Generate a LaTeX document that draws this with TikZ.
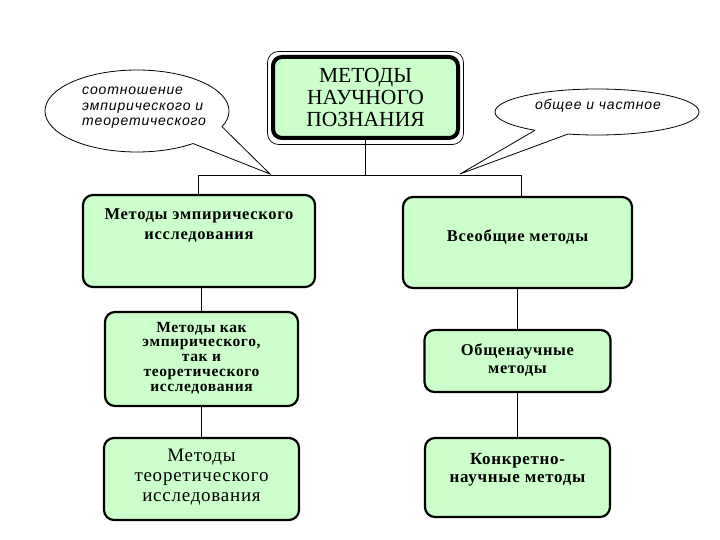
\documentclass[tikz,border=0pt]{standalone}
\usepackage{fontspec}
\setmainfont{Liberation Serif}
\newfontfamily\callfont[LetterSpace=6]{Liberation Sans}
\newfontfamily\boxfont[LetterSpace=4]{Liberation Serif}
\usetikzlibrary{shapes.geometric}
\definecolor{boxgreen}{RGB}{204,255,204}
\tikzset{
  gbox/.style={draw=black, fill=boxgreen, line width=2.2pt, rounded corners=10pt, inner sep=0pt},
  btxt/.style={align=center, font=\boxfont\bfseries\fontsize{14}{15}\selectfont, inner sep=0pt},
  conn/.style={draw=black, line width=0.8pt},
  bubble/.style={draw=black, fill=white, ellipse, line width=0.8pt, inner sep=0pt},
  ctxt/.style={font=\callfont\itshape\fontsize{14}{15.5}\selectfont, inner sep=0pt}
}
\begin{document}
\begin{tikzpicture}[x=1pt,y=-1pt]
\useasboundingbox (0,0) rectangle (720,540);
\fill[white] (0,0) rectangle (720,540);

% connectors
\coordinate (hl) at (198,175);
\coordinate (hr) at (521,175);

% top box
\node[draw=black, fill=boxgreen, line width=4pt, rounded corners=9pt, minimum width=185pt, minimum height=81pt, inner sep=0pt] (top) at (365.5,97.5) {};
\draw[line width=0.7pt, rounded corners=11pt] ([xshift=-3.5pt,yshift=3.5pt]top.north west) rectangle ([xshift=3.5pt,yshift=-4.5pt]top.south east);
\node[align=center, font=\fontsize{21.5}{22}\selectfont, inner sep=0pt] (toptxt) at (365.5,97.5) {МЕТОДЫ\\НАУЧНОГО\\ПОЗНАНИЯ};

% level 1
\node[gbox, minimum width=232pt, minimum height=92pt] (e1) at (199,241) {};
\node[btxt, font=\boxfont\bfseries\fontsize{16.5}{20}\selectfont] (e1t) at (199,226) {Методы эмпирического\\исследования};
\node[gbox, minimum width=229pt, minimum height=91pt] (u1) at (517.5,242.5) {};
\node[btxt, font=\boxfont\bfseries\fontsize{16.5}{20}\selectfont] (u1t) at (517.5,237) {Всеобщие методы};

% level 2
\node[gbox, minimum width=193pt, minimum height=94pt] (e2) at (201.5,359) {};
\node[btxt, font=\boxfont\bfseries\fontsize{15.5}{14.8}\selectfont] (e2t) at (201.5,358) {Методы как\\эмпирического,\\так и\\теоретического\\исследования};
\node[gbox, minimum width=186pt, minimum height=62pt] (u2) at (517.5,361) {};
\node[btxt, font=\boxfont\bfseries\fontsize{16.5}{18}\selectfont] (u2t) at (517.5,360) {Общенаучные\\методы};

% level 3
\node[gbox, minimum width=195pt, minimum height=82pt] (e3) at (201.5,479) {};
\node[align=center, font=\boxfont\fontsize{19}{20}\selectfont, inner sep=0pt] (e3t) at (201.5,477) {Методы\\теоретического\\исследования};
\node[gbox, minimum width=185pt, minimum height=79pt] (u3) at (517.5,477.5) {};
\node[btxt, font=\boxfont\bfseries\fontsize{17}{18}\selectfont] (u3t) at (517.5,470) {Конкретно-\\научные методы};

% tree connectors
\draw[conn] (top.south) -- (top.south |- hl);
\draw[conn] (hl) -- (hr);
\draw[conn] (hl) -- (hl |- e1.north);
\draw[conn] (hr) -- (hr |- u1.north);
\draw[conn] (e2.north) -- (e2.north |- e1.south);
\draw[conn] (e3.north) -- (e3.north |- e2.south);
\draw[conn] (u2.north) -- (u2.north |- u1.south);
\draw[conn] (u3.north) -- (u3.north |- u2.south);

% left callout
\node[bubble, minimum width=184pt, minimum height=82pt] (cl) at (137,111) {};
\node[ctxt, align=left, anchor=west] (clt) at (82,108) {соотношение\\эмпирического и\\теоретического};
\coordinate (clA) at (193,143.5);
\coordinate (clB) at (222,126.7);
\coordinate (clTip) at (270,174);
\fill[white] (191,139) -- (clA) -- (clTip) -- (clB) -- (218,125) -- cycle;
\draw[line width=0.8pt] (clA) -- (clTip) -- (clB);

% right callout
\node[bubble, minimum width=204pt, minimum height=46pt] (cr) at (597,112) {};
\node[ctxt] (crt) at (598,106) {общее и частное};
\coordinate (crA) at (535,130.3);
\coordinate (crB) at (568,134);
\coordinate (crTip) at (460,174);
\fill[white] (537,127) -- (crA) -- (crTip) -- (crB) -- (569,131) -- cycle;
\draw[line width=0.8pt] (crA) -- (crTip) -- (crB);
\end{tikzpicture}
\end{document}
